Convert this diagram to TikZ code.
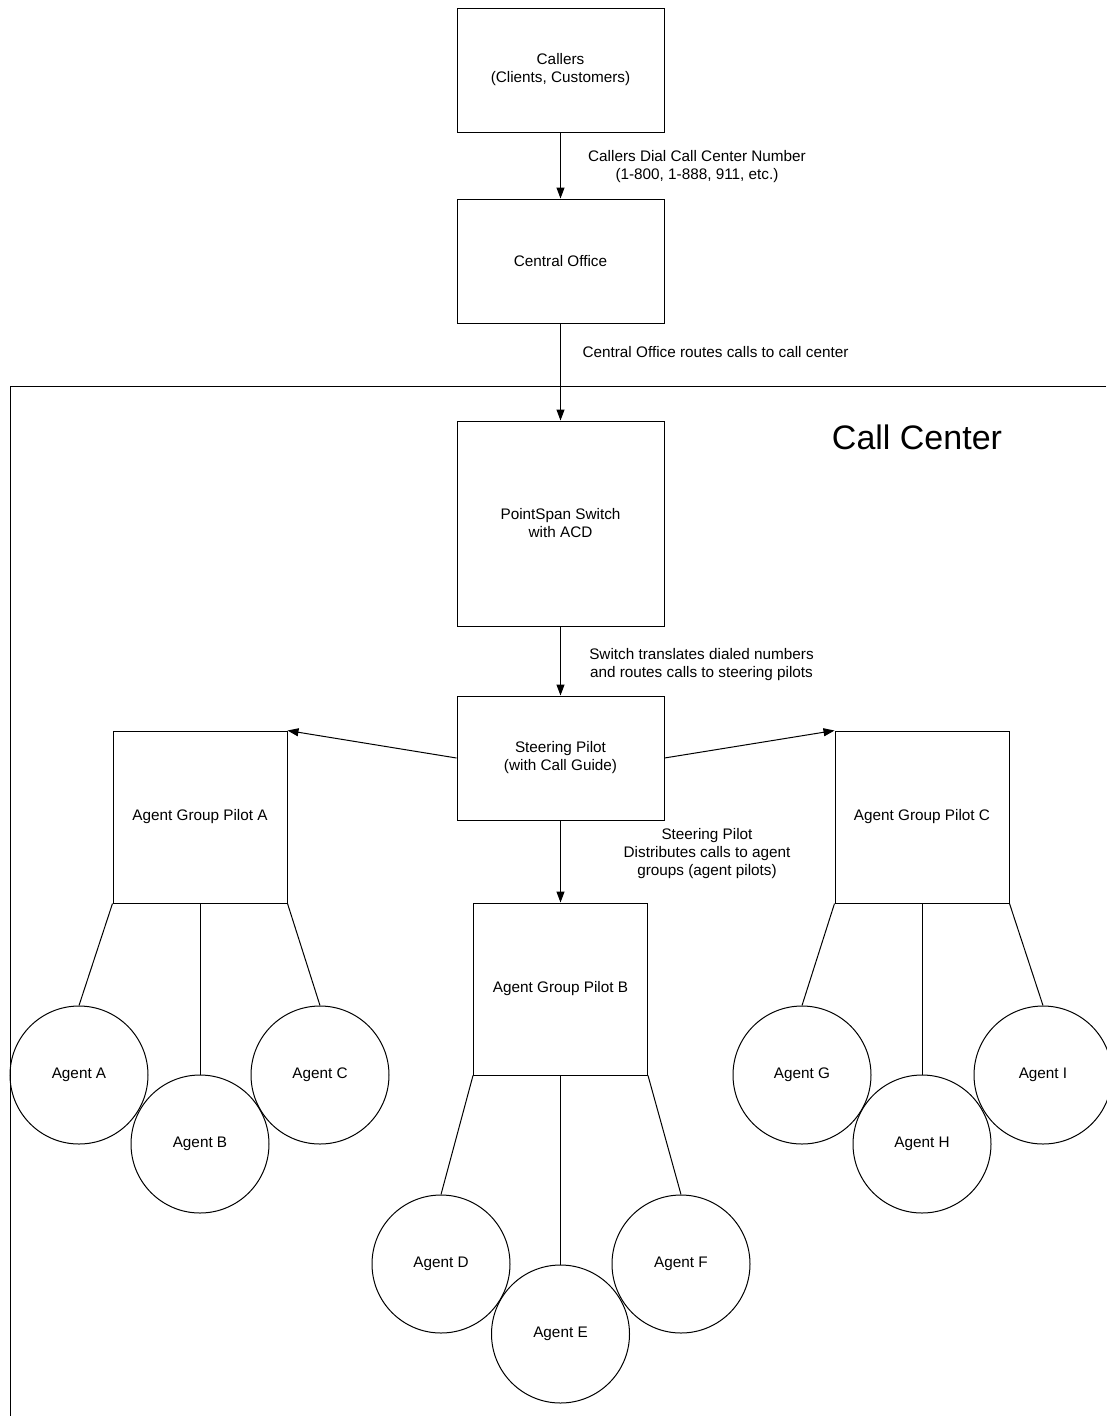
\documentclass[tikz,border=0pt]{standalone}
\usepackage{fontspec}
\setmainfont{Liberation Sans}
\usetikzlibrary{arrows.meta}
\tikzset{
  box/.style={draw, minimum width=207pt, minimum height=124pt, align=center, inner sep=0pt},
  grpbox/.style={box, minimum width=174pt, minimum height=172pt},
  agent/.style={draw, circle, minimum size=138pt, inner sep=0pt},
  flow/.style={-{Triangle[length=11pt,width=8pt]}},
  note/.style={align=center}
}
\begin{document}
\begin{tikzpicture}[x=1pt,y=-1pt,line width=1pt,font=\fontsize{15.3}{18}\selectfont]
      \useasboundingbox (0,0) rectangle (1106,1416);
      \draw (1106,386) -- (10,386) -- (10,1416);
      \node[font=\fontsize{34}{40}\selectfont] (cclabel) at (917,437) {Call Center};

      \node[box] (callers) at (560.5,70) {Callers\\(Clients, Customers)};
      \node[box] (central) at (560.5,261) {Central Office};
      \node[box, minimum height=205pt] (switch) at (560.5,523.5) {PointSpan Switch\\with ACD};
      \node[box] (steer) at (560.5,758) {Steering Pilot\\(with Call Guide)};
      \node[grpbox] (grpA) at (200,817) {Agent Group Pilot A};
      \node[grpbox] (grpB) at (560.5,989) {Agent Group Pilot B};
      \node[grpbox] (grpC) at (922,817) {Agent Group Pilot C};

      \node[agent] (agA) at (79,1075) {Agent A};
      \node[agent] (agB) at (200,1144) {Agent B};
      \node[agent] (agC) at (320,1075) {Agent C};
      \node[agent] (agD) at (441,1264) {Agent D};
      \node[agent] (agE) at (560.5,1334) {Agent E};
      \node[agent] (agF) at (681,1264) {Agent F};
      \node[agent] (agG) at (802,1075) {Agent G};
      \node[agent] (agH) at (922,1144) {Agent H};
      \node[agent] (agI) at (1043,1075) {Agent I};

      \draw[flow] (callers) -- (central);
      \draw[flow] (central) -- (switch);
      \draw[flow] (switch) -- (steer);
      \draw[flow] (steer.west) -- (grpA.north east);
      \draw[flow] (steer.east) -- (grpC.north west);
      \draw[flow] (steer) -- (grpB);

      \node[note] (dialnote) at (697,167) {Callers Dial Call Center Number\\(1-800, 1-888, 911, etc.)};
      \node[note] (routenote) at (715.5,352) {Central Office routes calls to call center};
      \node[note] (switchnote) at (701.5,665) {Switch translates dialed numbers\\and routes calls to steering pilots};
      \node[note] (steernote) at (707,854) {Steering Pilot\\Distributes calls to agent\\groups (agent pilots)};

      \draw (grpA.south west) -- (agA.north);
      \draw (grpA.south) -- (agB.north);
      \draw (grpA.south east) -- (agC.north);
      \draw (grpB.south west) -- (agD.north);
      \draw (grpB.south) -- (agE.north);
      \draw (grpB.south east) -- (agF.north);
      \draw (grpC.south west) -- (agG.north);
      \draw (grpC.south) -- (agH.north);
      \draw (grpC.south east) -- (agI.north);
\end{tikzpicture}
\end{document}
